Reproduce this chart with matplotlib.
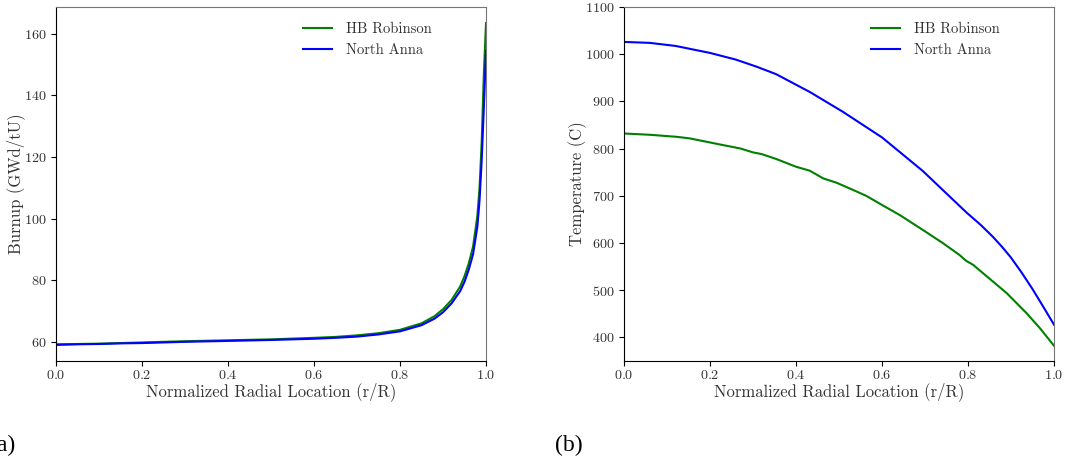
import numpy as np
import matplotlib
matplotlib.use("Agg")
import matplotlib.pyplot as plt

plt.rcParams['font.family'] = 'serif'
plt.rcParams['font.serif'] = ['cmr10']
plt.rcParams['mathtext.fontset'] = 'cm'
plt.rcParams['axes.formatter.use_mathtext'] = True

# burnup profile (a)
r_bu = [0.0, 0.05, 0.1, 0.15, 0.2, 0.3, 0.4, 0.5, 0.6, 0.65, 0.7, 0.75, 0.8,
        0.85, 0.88, 0.9, 0.92, 0.94, 0.95, 0.96, 0.97, 0.98, 0.985, 0.99, 0.995, 1.0]
bu_hb = [59.2, 59.3, 59.4, 59.6, 59.8, 60.2, 60.5, 60.8, 61.3, 61.6, 62.1, 62.8, 63.9,
         66.0, 68.3, 70.6, 73.6, 78.0, 81.3, 85.5, 91.0, 101.0, 110.0, 125.0, 147.0, 163.5]
bu_na = [59.0, 59.2, 59.3, 59.5, 59.6, 60.0, 60.3, 60.6, 61.0, 61.3, 61.7, 62.4, 63.4,
         65.4, 67.5, 69.6, 72.5, 76.5, 79.5, 83.5, 88.5, 97.5, 106.0, 119.0, 136.0, 154.5]

# temperature profile (b)
r_t_hb = [0.0, 0.06, 0.122, 0.153, 0.2, 0.23, 0.27, 0.3, 0.32, 0.354, 0.4, 0.432, 0.463,
          0.494, 0.533, 0.564, 0.6, 0.641, 0.695, 0.742, 0.78, 0.796, 0.812, 0.835,
          0.89, 0.936, 0.967, 1.0]
t_hb = [832, 829.3, 825, 821.6, 813, 807.5, 800.4, 792, 788.4, 778, 761.6, 753.2, 737,
        727.8, 712.3, 699.6, 680.6, 659.4, 627.7, 599.5, 574.8, 562, 553.7, 536,
        493.8, 451.5, 419.8, 382.4]
r_t_na = [0.0, 0.06, 0.12, 0.2, 0.26, 0.31, 0.354, 0.432, 0.509, 0.6, 0.695, 0.796,
          0.83, 0.858, 0.88, 0.9, 0.925, 0.951, 0.975, 1.0]
t_na = [1026, 1024, 1017.5, 1002.7, 988.6, 973, 957.6, 920, 878, 823.7, 752.5, 665,
        638, 613, 591, 569, 537, 501, 465, 427]

W, H = 1086, 461
fig = plt.figure(figsize=(W / 100, H / 100), dpi=100)
ax1 = fig.add_axes([56 / W, 100 / H, 430 / W, 354 / H])
ax2 = fig.add_axes([624 / W, 100 / H, 430 / W, 354 / H])

ax1.plot(r_bu, bu_hb, color='green', lw=1.5, label='HB Robinson')
ax1.plot(r_bu, bu_na, color='blue', lw=1.5, label='North Anna')
ax1.set_ylabel('Burnup (GWd/tU)', fontsize=12, labelpad=-1.0)

ax2.plot(r_t_hb, t_hb, color='green', lw=1.5, label='HB Robinson')
ax2.plot(r_t_na, t_na, color='blue', lw=1.5, label='North Anna')
ax2.set_ylim(350, 1100)
ax2.set_ylabel('Temperature (C)', fontsize=12, labelpad=-1.5)

for ax in (ax1, ax2):
    ax.set_xlim(0, 1)
    ax.set_xlabel('Normalized Radial Location (r/R)', fontsize=12, color='#333333',
                  labelpad=0.5)
    ax.yaxis.label.set_color('#333333')
    ax.tick_params(labelsize=10.2, labelcolor='#333333', length=3.5)
    ax.tick_params(axis='x', pad=2)
    for s in ('top', 'right'):
        ax.spines[s].set_color('#777777')
    ax.legend(loc='upper left', bbox_to_anchor=(0.56, 0.973), borderaxespad=0,
              frameon=False, fontsize=10.5, labelcolor='#333333', handletextpad=1.0)

fig.text(15 / W, 1 - 445 / H, '(a)', family='Liberation Serif', fontsize=17,
         ha='right', va='center')
fig.text(555 / W, 1 - 445 / H, '(b)', family='Liberation Serif', fontsize=17,
         ha='left', va='center')

fig.savefig('out.png', dpi=100)
